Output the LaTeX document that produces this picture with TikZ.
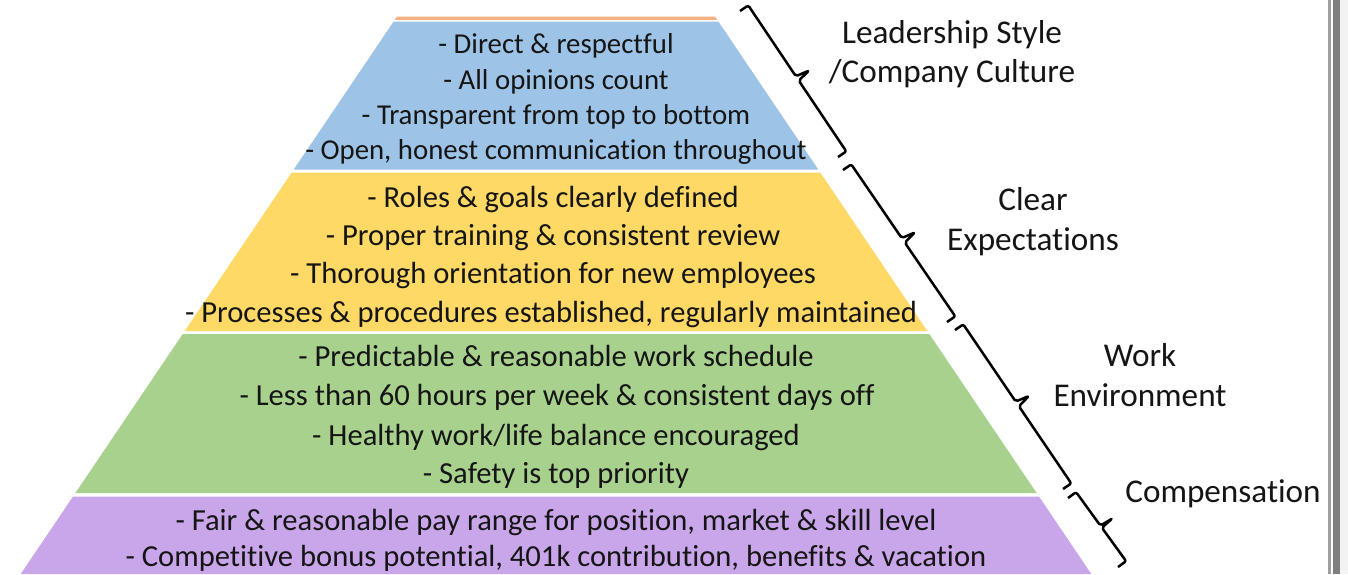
\documentclass[tikz,border=0pt]{standalone}
\usepackage{fontspec}
\setmainfont{Carlito}[Ligatures=NoCommon]
\usetikzlibrary{calc}
\definecolor{cOrange}{HTML}{F4B183}
\definecolor{cBlue}{HTML}{9DC3E6}
\definecolor{cYellow}{HTML}{FFD966}
\definecolor{cGreen}{HTML}{A9D18E}
\definecolor{cPurple}{HTML}{C9A6EA}
\definecolor{cText}{HTML}{151515}
\definecolor{cBarA}{HTML}{A0A0A0}
\definecolor{cBarB}{HTML}{7F7F7F}
\definecolor{cBarC}{HTML}{F3F3F3}
\newcommand\pyrlayer[3]{%
  \fill[#1] ({556-(147.825+0.675*#2)},#2) -- ({556+(147.825+0.675*#2)},#2)
    -- ({556+(147.825+0.675*#3)},#3) -- ({556-(147.825+0.675*#3)},#3) -- cycle;}
% angular brace from hook tip #1 to hook tip #2, tip pointing away from pyramid
\newcommand\mybrace[2]{%
  \draw[brc] (#1) -- ($(#1)!5pt!90:(#2)$)
    -- ($(#1)!0.485!(#2)!5pt!90:(#2)$)
    -- ($(#1)!0.5!(#2)!12pt!90:(#2)$)
    -- ($(#1)!0.515!(#2)!5pt!90:(#2)$)
    -- ($(#2)!5pt!-90:(#1)$) -- (#2);}
\tikzset{
  txt/.style={anchor=base, inner sep=0pt, text=cText, font=\fontsize{15.3pt}{18pt}\selectfont},
  txtb/.style={txt, font=\fontsize{14.4pt}{18pt}\selectfont},
  lbl/.style={anchor=base, inner sep=0pt, text=cText, font=\fontsize{16.6pt}{20pt}\selectfont},
  brc/.style={line width=1.25pt, draw=black, rounded corners=1pt, line join=round}
}
\begin{document}
\begin{tikzpicture}[x=0.5pt,y=-0.5pt]
\useasboundingbox (0,0) rectangle (1348,574);
\fill[white] (0,0) rectangle (1348,574);
% pyramid layers
\pyrlayer{cOrange}{16.5}{20}
\pyrlayer{cBlue}{21.7}{169.5}
\pyrlayer{cYellow}{172.6}{331}
\pyrlayer{cGreen}{334}{493}
\pyrlayer{cPurple}{496.6}{574}
% blue texts
\node[txtb] (b1) at (556,53) {- Direct \& respectful};
\node[txtb] (b2) at (556,89) {- All opinions count};
\node[txtb] (b3) at (556,124) {- Transparent from top to bottom};
\node[txtb] (b4) at (556,159) {- Open, honest communication throughout};
% yellow texts
\node[txt] (y1) at (553,207) {- Roles \& goals clearly defined};
\node[txt] (y2) at (553,245) {- Proper training \& consistent review};
\node[txt] (y3) at (553,283) {- Thorough orientation for new employees};
\node[txt] (y4) at (551,322) {- Processes \& procedures established, regularly maintained};
% green texts
\node[txt] (g1) at (556,366) {- Predictable \& reasonable work schedule};
\node[txt] (g2) at (557,405) {- Less than 60 hours per week \& consistent days off};
\node[txt] (g3) at (556,445) {- Healthy work/life balance encouraged};
\node[txt] (g4) at (556,483) {- Safety is top priority};
% purple texts
\node[txt] (p1) at (556,530) {- Fair \& reasonable pay range for position, market \& skill level};
\node[txt] (p2) at (556,566) {- Competitive bonus potential, 401k contribution, benefits \& vacation};
% braces
\coordinate (s1) at (740,11);  \coordinate (e1) at (838,157);
\coordinate (s2) at (843,170); \coordinate (e2) at (947,322);
\coordinate (s3) at (955,330); \coordinate (e3) at (1063,489);
\coordinate (s4) at (1068,498); \coordinate (e4) at (1118,567);
\mybrace{s1}{e1}
\mybrace{s2}{e2}
\mybrace{s3}{e3}
\mybrace{s4}{e4}
% labels
\node[lbl] (l1a) at (952,43) {Leadership Style};
\node[lbl] (l1b) at (952,82) {/Company Culture};
\node[lbl] (l2a) at (1033,210) {Clear};
\node[lbl] (l2b) at (1033,250) {Expectations};
\node[lbl] (l3a) at (1140,366) {Work};
\node[lbl] (l3b) at (1140,406) {Environment};
\node[lbl] (l4) at (1223,502) {Compensation};
% right edge bars
\fill[cBarA] (1328,0) rectangle (1331,574);
\fill[cBarB] (1333,0) rectangle (1340,574);
\fill[cBarC] (1340,0) rectangle (1348,574);
\end{tikzpicture}
\end{document}
